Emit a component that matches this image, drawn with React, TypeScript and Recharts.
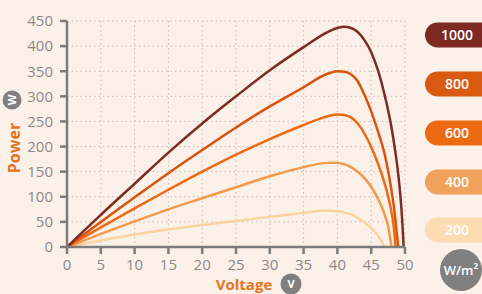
import React from "react";
import { LineChart, Line, XAxis, YAxis, CartesianGrid } from "recharts";

const xTicks = [0, 5, 10, 15, 20, 25, 30, 35, 40, 45, 50];
const yTicks = [0, 50, 100, 150, 200, 250, 300, 350, 400, 450];

const volts1000 = [0, 5, 10, 15, 20, 25, 30, 35, 38, 39, 40, 41, 42, 43, 44, 45, 46, 47, 48, 48.5, 49, 49.3, 49.6, 49.8];
const power1000 = [0, 64, 126, 188, 246, 300, 352, 398, 424, 431, 436, 438.5, 436, 428, 412, 388, 352, 302, 238, 196, 145, 105, 50, 0];

const volts800 = [0, 5, 10, 15, 20, 25, 30, 35, 38, 39, 40, 41, 42, 43, 44, 45, 46, 47, 47.5, 48, 48.3, 48.6, 49];
const power800 = [0, 50, 99, 147, 193, 238, 280, 318, 342, 347, 350, 349, 344, 330, 303, 270, 230, 184, 152, 113, 86, 52, 0];

const volts600 = [0, 5, 10, 15, 20, 25, 30, 35, 38, 39, 40, 41, 42, 43, 44, 45, 46, 47, 47.5, 48, 48.3, 48.6];
const power600 = [0, 39, 77, 114, 150, 184, 215, 243, 258, 262, 264, 263, 258, 246, 226, 199, 166, 126, 101, 70, 44, 0];

const volts400 = [0, 5, 10, 15, 20, 25, 30, 35, 37, 38, 39, 40, 41, 42, 43, 44, 45, 46, 47, 47.5, 48];
const power400 = [0, 26, 51, 75, 97, 119, 141, 159, 165, 167, 168, 167.5, 165, 159, 150, 137, 120, 96, 64, 42, 0];

const volts200 = [0, 5, 10, 15, 20, 25, 30, 35, 36, 38, 39, 40, 41, 42, 43, 44, 45, 46, 46.6, 47];
const power200 = [0, 13, 25, 35, 44, 52, 60, 68, 70, 72, 72, 71, 69, 65, 58, 49, 38, 23, 10, 0];

const seriesLabels = ["1000", "800", "600", "400", "200"];
const lineColors = ["#7b2c24", "#d9530c", "#ee6a12", "#f29a4a", "#fbd3a0"];
const pillColors = ["#7d2a22", "#d95a10", "#ec6a12", "#f0a25a", "#fcdcb0"];

const build = (v: number[], p: number[]) => v.map((x, i) => ({ v: x, p: p[i] }));

const series = [
  build(volts1000, power1000),
  build(volts800, power800),
  build(volts600, power600),
  build(volts400, power400),
  build(volts200, power200),
];

const BG = "#fcf1e8";
const AXIS = "#7c7c7c";
const ORANGE = "#e8731f";
const FONT = "'Open Sans', sans-serif";

export default function App() {
  const pillY = [35, 84, 133, 182, 230];
  return (
    <div style={{ position: "absolute", left: 0, top: 0, width: 482, height: 294, background: BG, overflow: "hidden", fontFamily: FONT }}>
      <LineChart width={482} height={294} margin={{ top: 21, right: 77, bottom: 0, left: 0 }}>
        <CartesianGrid stroke="#c8bfb8" strokeDasharray="1.5 3" strokeWidth={1} />
        <XAxis
          type="number"
          dataKey="v"
          domain={[0, 50]}
          ticks={xTicks}
          interval={0}
          height={47}
          stroke={AXIS}
          strokeWidth={2.5}
          tickSize={7}
          tickMargin={5}
          tick={{ fill: "#8a8a8a", fontSize: 15, fontFamily: FONT }}
          allowDataOverflow
        />
        <YAxis
          type="number"
          dataKey="p"
          domain={[0, 450]}
          ticks={yTicks}
          interval={0}
          width={67}
          stroke={AXIS}
          strokeWidth={2.5}
          tickSize={7}
          tickMargin={7}
          tick={{ fill: "#8a8a8a", fontSize: 15, fontFamily: FONT }}
        />
        {[4, 3, 2, 1, 0].map((i) => (
          <Line
            key={seriesLabels[i]}
            data={series[i]}
            dataKey="p"
            type="monotone"
            stroke={lineColors[i]}
            strokeWidth={2.5}
            dot={false}
            activeDot={false}
            isAnimationActive={false}
          />
        ))}
      </LineChart>
      <svg width={482} height={294} style={{ position: "absolute", left: 0, top: 0 }}>
        {seriesLabels.map((s, i) => (
          <g key={s}>
            <rect x={425} y={pillY[i] - 12.5} width={80} height={25} rx={12.5} fill={pillColors[i]} />
            <text x={457} y={pillY[i]} dy="0.35em" textAnchor="middle" fill="#fff" fontSize={14} fontWeight={600} fontFamily={FONT}>
              {s}
            </text>
          </g>
        ))}
        <circle cx={461} cy={270} r={21} fill="#808080" />
        <text x={461} y={270} dy="0.35em" textAnchor="middle" fill="#fff" fontSize={13} fontWeight={600} fontFamily={FONT}>
          W/m²
        </text>
        <text x={244} y={284.5} dy="0.35em" textAnchor="middle" fill={ORANGE} fontSize={15} fontWeight={700} fontFamily={FONT}>
          Voltage
        </text>
        <circle cx={291} cy={284} r={10.5} fill="#808080" />
        <text x={291} y={284} dy="0.35em" textAnchor="middle" fill="#fff" fontSize={11} fontWeight={700} fontFamily={FONT}>
          V
        </text>
        <g transform="translate(14,148) rotate(-90)">
          <text x={0} y={0} dy="0.35em" textAnchor="middle" fill={ORANGE} fontSize={16} fontWeight={700} fontFamily={FONT}>
            Power
          </text>
        </g>
        <circle cx={12} cy={100} r={9.5} fill="#808080" />
        <g transform="translate(12,100) rotate(-90)">
          <text x={0} y={0} dy="0.35em" textAnchor="middle" fill="#fff" fontSize={11} fontWeight={700} fontFamily={FONT}>
            W
          </text>
        </g>
      </svg>
    </div>
  );
}
